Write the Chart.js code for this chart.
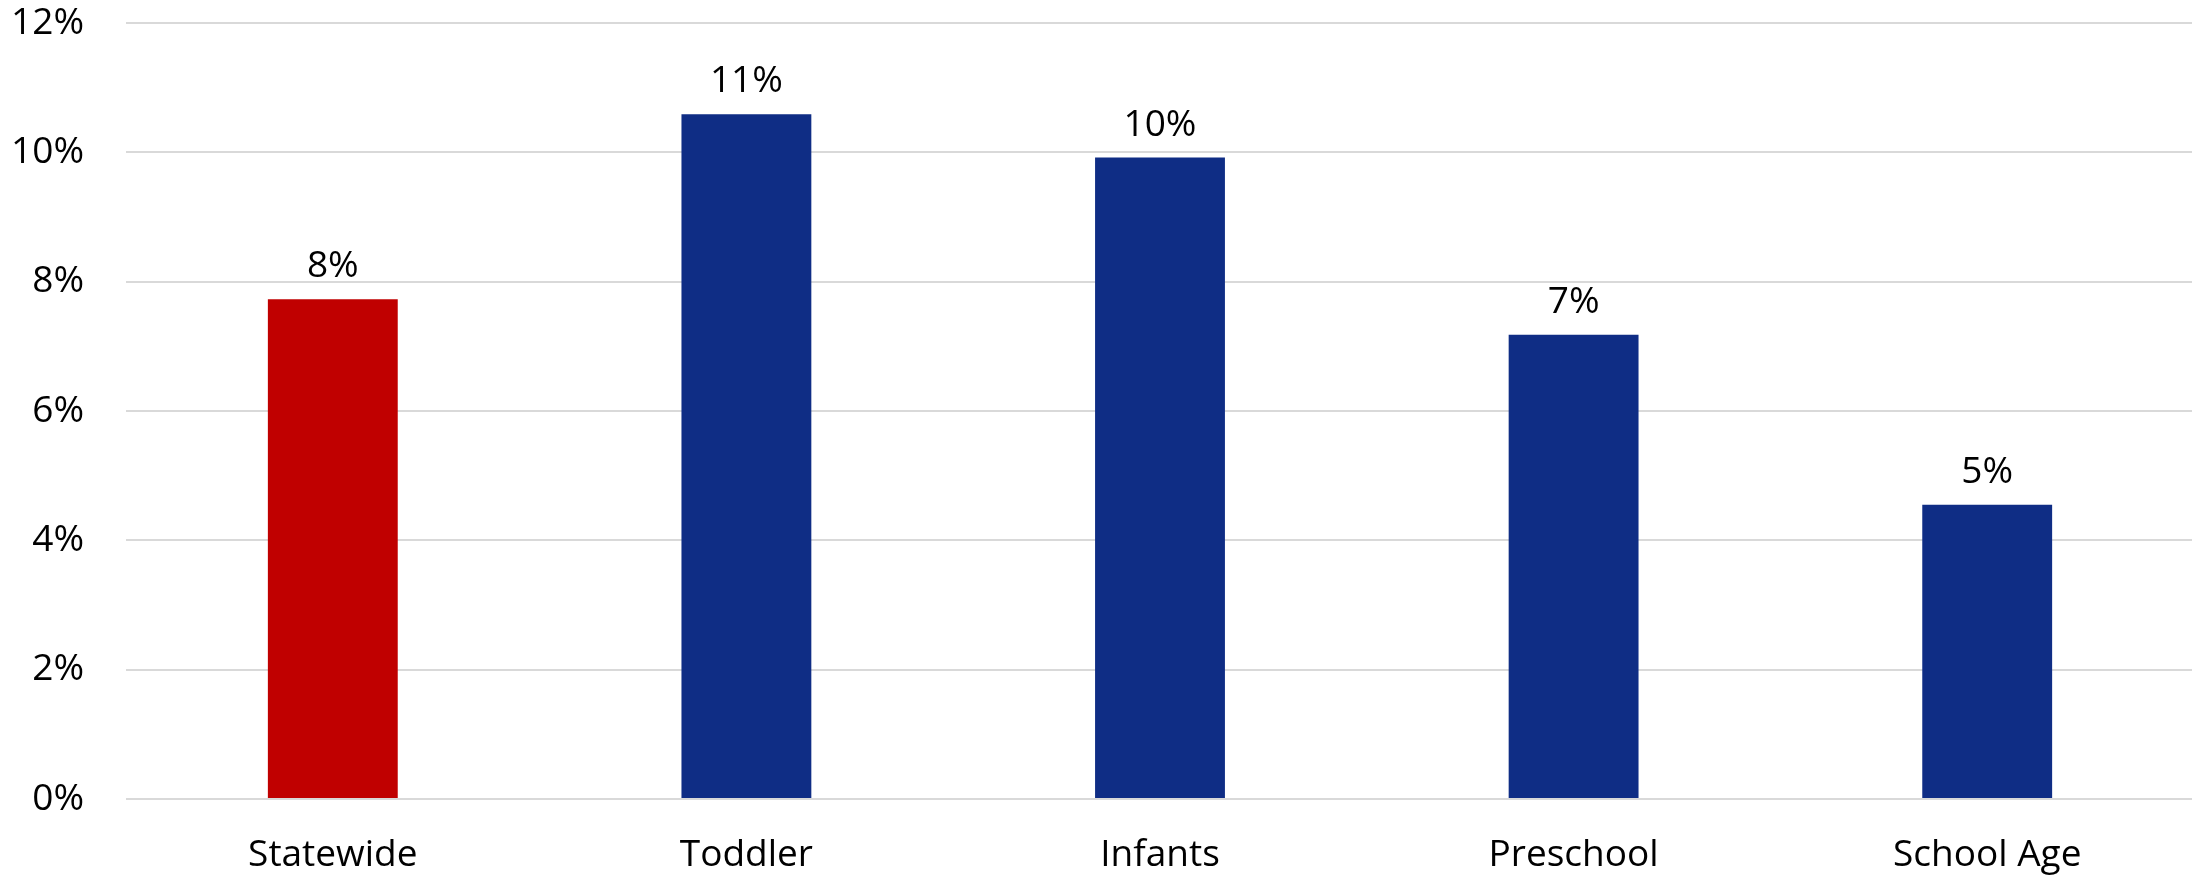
<!DOCTYPE html>
<html>
<head>
<meta charset="utf-8">
<script src="https://cdn.jsdelivr.net/npm/chart.js@4.4.1/dist/chart.umd.min.js"></script>
<style>
  html, body { margin: 0; padding: 0; background: #ffffff; overflow: hidden; }
  #wrap { position: relative; width: 2196px; height: 877px; }
</style>
</head>
<body>
<div id="wrap"><canvas id="chart"></canvas></div>
<script>
// Share of children by age group, compared with the statewide figure
const categories = ['Statewide', 'Toddler', 'Infants', 'Preschool', 'School Age'];
const values = [7.73, 10.59, 9.92, 7.18, 4.55];
const barColors = ['#C00000', '#0F2D85', '#0F2D85', '#0F2D85', '#0F2D85'];
const yTicks = [0, 2, 4, 6, 8, 10, 12];

const FONT = '"Open Sans", Lato, sans-serif';
const FONT_SIZE = 37;

// Writes the rounded percentage above each bar
const valueLabels = {
  id: 'valueLabels',
  afterDatasetsDraw(chart) {
    const ctx = chart.ctx;
    const meta = chart.getDatasetMeta(0);
    ctx.save();
    ctx.font = FONT_SIZE + 'px ' + FONT;
    ctx.fillStyle = '#000000';
    ctx.textAlign = 'center';
    ctx.textBaseline = 'alphabetic';
    meta.data.forEach((bar, i) => {
      ctx.fillText(Math.round(values[i]) + '%', bar.x, bar.y - 22);
    });
    ctx.restore();
  }
};

new Chart(document.getElementById('chart'), {
  type: 'bar',
  data: {
    labels: categories,
    datasets: [{
      data: values,
      backgroundColor: barColors,
      borderWidth: 0,
      barPercentage: 0.314,
      categoryPercentage: 1.0
    }]
  },
  options: {
    responsive: true,
    maintainAspectRatio: false,
    animation: false,
    devicePixelRatio: 1,
    layout: { padding: { top: 23, right: 2, bottom: 0, left: 0 } },
    plugins: {
      legend: { display: false },
      tooltip: { enabled: false }
    },
    scales: {
      x: {
        grid: { display: false },
        border: { display: false },
        ticks: {
          color: '#000000',
          font: { family: FONT, size: FONT_SIZE },
          padding: 26,
          maxRotation: 0
        },
        afterFit(scale) {
          scale.height = 78;
          scale.paddingLeft = 0;
          scale.paddingRight = 0;
        }
      },
      y: {
        min: 0,
        max: 12,
        afterBuildTicks(scale) { scale.ticks = yTicks.map(v => ({ value: v })); },
        grid: { color: '#D9D9D9', lineWidth: 2, drawTicks: false },
        border: { display: false },
        ticks: {
          color: '#000000',
          font: { family: FONT, size: FONT_SIZE },
          padding: 42,
          callback: v => v + '%'
        },
        afterFit(scale) {
          scale.width = 126;
          scale.paddingTop = 0;
          scale.paddingBottom = 0;
        }
      }
    }
  },
  plugins: [valueLabels]
});
</script>
</body>
</html>
